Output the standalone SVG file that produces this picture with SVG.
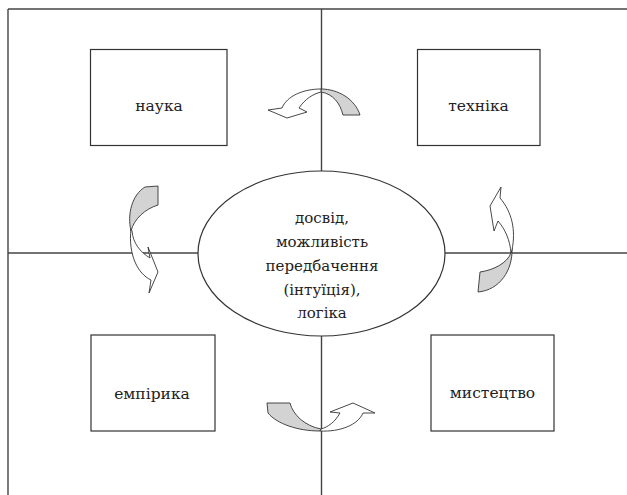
<svg xmlns="http://www.w3.org/2000/svg" width="627" height="495" viewBox="0 0 627 495">
<style>
.frame{stroke:#444;stroke-width:1.4;fill:none}
.box{fill:#fff;stroke:#333;stroke-width:1.2}
.aw{fill:#fff;stroke:#333;stroke-width:0.9;stroke-linejoin:miter}
.ag{fill:#d3d3d3;stroke:#333;stroke-width:0.9}
.t{font-family:'DejaVu Serif',serif;fill:#222;text-anchor:middle}
</style>
<rect width="627" height="495" fill="#fff"/>
<g id="frame">
<line class="frame" x1="8" y1="9" x2="627" y2="9"/>
<line class="frame" x1="8" y1="9" x2="8" y2="495"/>
<line class="frame" x1="321.5" y1="9" x2="321.5" y2="495"/>
<line class="frame" x1="8" y1="253" x2="627" y2="253"/>
</g>
<g id="connectors">
<g id="arrow-top">
<path class="ag" d="M321,89 C338,89 355,99 360,115 L343,115 C340,103 333,94 321,92 Z"/>
<path class="aw" d="M321,89 C303,89 287,96 282,108 L268,110 L287,118 L307,112 L299,108 C305,99 313,94 321,92 Z"/>
</g>
<g id="arrow-right">
<path class="ag" d="M512,248 C513,270 500,290 478,292 L480,272 C494,270 507,263 511,253 Z"/>
<path class="aw" d="M512,250 C516,230 512,212 500,198 L501,187 L490,206 L494,231 L498,221 C505,229 510,240 511,253 Z"/>
</g>
<g id="arrow-bottom">
<path class="ag" d="M267,403 L290,403 C293,415 305,426 321,429 L320,431 C298,431 277,424 268,413 Z"/>
<path class="aw" d="M320,431 C340,432 358,425 363,413 L375,413 L353,403 L330,412 L340,413 C335,422 328,427 321,429 Z"/>
</g>
<g id="arrow-left">
<path class="ag" d="M145,187 L158,186 L158,205 C145,209 134,219 131,231 C127,214 132,195 145,187 Z"/>
<path class="aw" d="M131,229 C128,255 138,274 151,280 L149,293 L158,272 L148,247 L150,258 C140,252 133,243 132,231 Z"/>
</g>
</g>
<g id="center" class="t" font-size="15">
<ellipse cx="321.5" cy="253.5" rx="123.5" ry="82.5" fill="#fff" stroke="#333" stroke-width="1.2"/>
<text x="322" y="223">досвід,</text>
<text x="322" y="247">можливість</text>
<text x="322" y="271">передбачення</text>
<text x="322" y="295">(інтуїція),</text>
<text x="322" y="318">логіка</text>
</g>
<g id="nauka" class="t" font-size="15.5">
<rect class="box" x="90.5" y="49.5" width="136.5" height="96"/>
<text x="159" y="111">наука</text>
</g>
<g id="tekhnika" class="t" font-size="15.5">
<rect class="box" x="417.5" y="49.5" width="122.5" height="96"/>
<text x="478.5" y="111">техніка</text>
</g>
<g id="empiryka" class="t" font-size="15.5">
<rect class="box" x="91" y="335" width="124" height="96"/>
<text x="152" y="399">емпірика</text>
</g>
<g id="mystetstvo" class="t" font-size="15.5">
<rect class="box" x="431" y="335" width="123" height="96"/>
<text x="492.5" y="398">мистецтво</text>
</g>
</svg>
